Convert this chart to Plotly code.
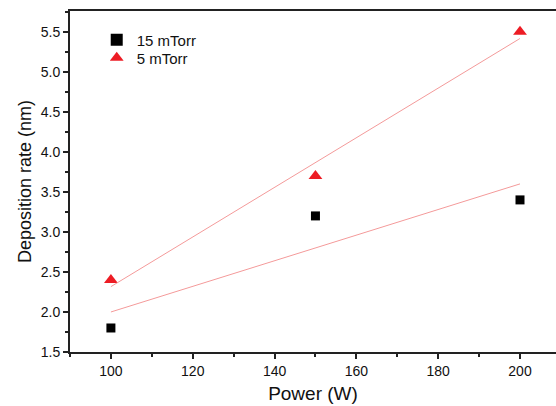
import numpy as np
import plotly.graph_objects as go

power = [100, 150, 200]
rate_15 = [1.8, 3.2, 3.4]
rate_5 = [2.4, 3.7, 5.5]
names = ["15 mTorr", "5 mTorr"]

fig = go.Figure()
fig.add_trace(go.Scatter(x=power, y=rate_15, mode="markers", name=names[0], legend="legend",
                         marker=dict(symbol="square", size=9, color="black")))
fig.add_trace(go.Scatter(x=power, y=rate_5, mode="markers", name=names[1], legend="legend2",
                         marker=dict(symbol="triangle-up", size=12, color="#ED1C24")))

for ys in (rate_15, rate_5):
    k, b = np.polyfit(power, ys, 1)
    xs = [min(power), max(power)]
    fig.add_trace(go.Scatter(x=xs, y=[k * v + b for v in xs], mode="lines",
                             line=dict(color="#F49A9A", width=1), showlegend=False,
                             hoverinfo="skip"))

font = "Liberation Sans, Arial, sans-serif"
leg = dict(xanchor="left", yanchor="middle", bgcolor="rgba(0,0,0,0)",
           font=dict(size=15, family=font, color="#111"), itemsizing="constant")
fig.update_layout(
    width=556, height=406,
    margin=dict(l=70, r=0, t=11, b=54),
    paper_bgcolor="white", plot_bgcolor="white",
    font=dict(family=font, color="#111"),
    showlegend=True,
    legend=dict(x=0.055, y=0.915, **leg),
    legend2=dict(x=0.055, y=0.862, **leg),
    xaxis=dict(range=[90, 208.8], showgrid=False, zeroline=False,
               showline=True, linecolor="#222", linewidth=2, mirror=True,
               ticks="outside", ticklen=5, tickwidth=1.5, tickcolor="#222",
               tickmode="array", tickvals=[100, 120, 140, 160, 180, 200],
               ticktext=["100", "120", "140", "160", "180", "200"],
               tickfont=dict(size=14),
               minor=dict(ticks="outside", ticklen=3, tickwidth=1.5, tickcolor="#222", dtick=10, tick0=90),
               title=dict(text="Power (W)", font=dict(size=19), standoff=9)),
    yaxis=dict(range=[1.5, 5.76], showgrid=False, zeroline=False,
               showline=True, linecolor="#222", linewidth=2, mirror=False,
               ticks="outside", ticklen=5, tickwidth=1.5, tickcolor="#222",
               tickmode="array", tickvals=[1.5, 2.0, 2.5, 3.0, 3.5, 4.0, 4.5, 5.0, 5.5],
               ticktext=["1.5", "2.0", "2.5", "3.0", "3.5", "4.0", "4.5", "5.0", "5.5"],
               tickfont=dict(size=14),
               minor=dict(ticks="outside", ticklen=3, tickwidth=1.5, tickcolor="#222", dtick=0.25, tick0=1.5),
               title=dict(text="Deposition rate (nm)", font=dict(size=18), standoff=4)),
)

fig.write_html("out.html")
